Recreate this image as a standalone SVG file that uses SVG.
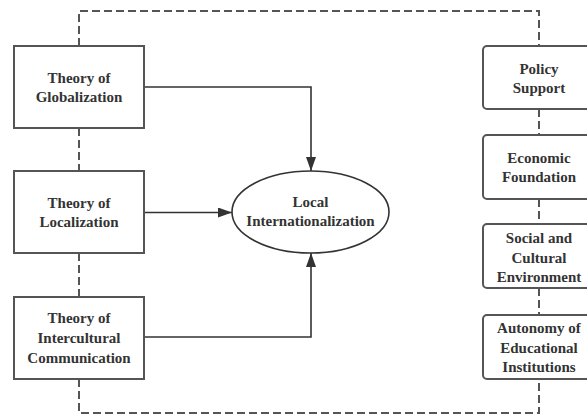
<svg xmlns="http://www.w3.org/2000/svg" width="587" height="416" viewBox="0 0 587 416">
<defs>
<style>
.box{fill:#fff;stroke:#555;stroke-width:2}
.t{font-family:'Liberation Serif','Times New Roman',serif;font-weight:700;font-size:15px;fill:#333;text-anchor:middle}
.dash{fill:none;stroke:#555;stroke-width:2;stroke-dasharray:8 4}
.arr{fill:none;stroke:#333;stroke-width:1.6}
</style>
<marker id="ah" markerWidth="14" markerHeight="10" refX="14" refY="5" orient="auto" markerUnits="userSpaceOnUse">
<path d="M0,0 L14,5 L0,10 Z" fill="#333"/>
</marker>
</defs>
<rect width="587" height="416" fill="#fff"/>
<g id="frame">
<path class="dash" d="M79,46 V11 H539 V46"/>
<path class="dash" d="M79,379 V413 H539 V379"/>
<path class="dash" d="M79,128 V171 M79,253 V297"/>
<path class="dash" d="M539,109 V135 M539,199 V224 M539,288 V315"/>
</g>
<g id="connectors">
<path class="arr" d="M144,87 H311 V171" marker-end="url(#ah)"/>
<path class="arr" d="M144,212.5 H232" marker-end="url(#ah)"/>
<path class="arr" d="M144,337 H311 V253" marker-end="url(#ah)"/>
</g>
<g id="globalization">
<rect class="box" x="14" y="46" width="130" height="82"/>
<text class="t" x="79" y="83">Theory of</text>
<text class="t" x="79" y="102">Globalization</text>
</g>
<g id="localization">
<rect class="box" x="14" y="171" width="130" height="82"/>
<text class="t" x="79" y="208">Theory of</text>
<text class="t" x="79" y="227">Localization</text>
</g>
<g id="intercultural">
<rect class="box" x="14" y="297" width="130" height="82"/>
<text class="t" x="79" y="323">Theory of</text>
<text class="t" x="79" y="343">Intercultural</text>
<text class="t" x="79" y="363">Communication</text>
</g>
<g id="local-int">
<ellipse cx="310.5" cy="212" rx="78.5" ry="41" fill="#fff" stroke="#333" stroke-width="1.6"/>
<text class="t" x="310.5" y="207">Local</text>
<text class="t" x="310.5" y="226">Internationalization</text>
</g>
<g id="policy">
<rect class="box" x="483" y="46" width="112" height="63" rx="4"/>
<text class="t" x="539" y="74">Policy</text>
<text class="t" x="539" y="93">Support</text>
</g>
<g id="economic">
<rect class="box" x="483" y="135" width="112" height="64" rx="4"/>
<text class="t" x="539" y="163">Economic</text>
<text class="t" x="539" y="182">Foundation</text>
</g>
<g id="social">
<rect class="box" x="483" y="224" width="112" height="64" rx="4"/>
<text class="t" x="539" y="243">Social and</text>
<text class="t" x="539" y="263">Cultural</text>
<text class="t" x="539" y="282">Environment</text>
</g>
<g id="autonomy">
<rect class="box" x="483" y="315" width="112" height="64" rx="4"/>
<text class="t" x="539" y="333">Autonomy of</text>
<text class="t" x="539" y="353">Educational</text>
<text class="t" x="539" y="372">Institutions</text>
</g>
</svg>
